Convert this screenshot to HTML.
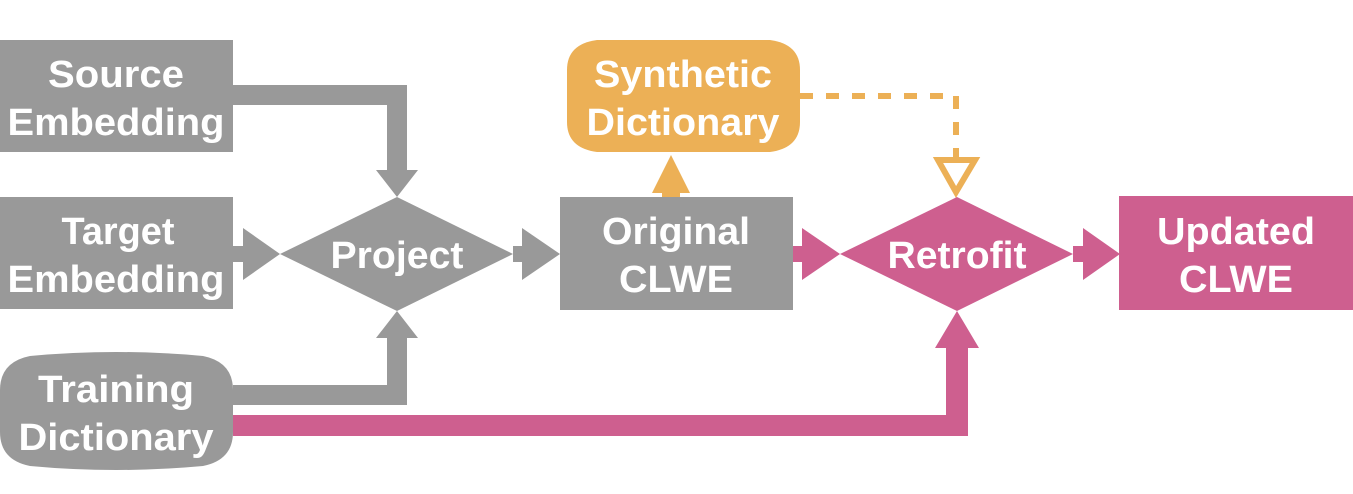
<!DOCTYPE html>
<html><head><style>
html,body{margin:0;padding:0;background:#fff;}
svg{display:block;}
text{font-family:"Liberation Sans",Arial,sans-serif;font-weight:bold;font-size:38px;fill:#fff;text-anchor:middle;}
</style></head><body>
<svg width="1353" height="494" viewBox="0 0 1353 494" xmlns="http://www.w3.org/2000/svg">
<rect x="0" y="40" width="233" height="112" fill="#999"/>
<rect x="0" y="197" width="233" height="112" fill="#999"/>
<path d="M30,356 Q0,362 0,390 L0,432 Q0,460 30,466 Q116,474 203,466 Q233,460 233,432 L233,390 Q233,362 203,356 Q116,348 30,356Z" fill="#999"/>
<rect x="560" y="197" width="233" height="113" fill="#999"/>
<polygon points="280,254 397,197 513,254 397,311" fill="#999"/>
<polygon points="233,85 407,85 407,170 418,170 397,197 376,170 387,170 387,105 233,105" fill="#999"/>
<polygon points="233,246 243,246 243,228 280,254 243,280 243,262 233,262" fill="#999"/>
<polygon points="233,385 387,385 387,338 376,338 397,311 418,338 407,338 407,405 233,405" fill="#999"/>
<polygon points="513,246 522,246 522,228 560,254 522,280 522,262 513,262" fill="#999"/>
<polygon points="233,415 946,415 946,348 935,348 957,311 979,348 968,348 968,436 233,436" fill="#CE5F8F"/>
<path d="M597,40 L770,40 Q800,44 800,70 L800,122 Q800,148 770,152 L597,152 Q567,148 567,122 L567,70 Q567,44 597,40Z" fill="#ECB056"/>
<polygon points="662,197 662,193 652,193 671,155 690,193 680,193 680,197" fill="#ECB056"/>
<path d="M800,96 L956,96 L956,160" fill="none" stroke="#ECB056" stroke-width="6" stroke-dasharray="13,13"/>
<polygon points="938,160 975,160 956,192" fill="none" stroke="#ECB056" stroke-width="6"/>
<polygon points="840,254 957,197 1073,254 957,311" fill="#CE5F8F"/>
<polygon points="793,246 802,246 802,228 840,254 802,280 802,262 793,262" fill="#CE5F8F"/>
<polygon points="1073,246 1083,246 1083,228 1120,254 1083,280 1083,262 1073,262" fill="#CE5F8F"/>
<rect x="1119" y="196" width="234" height="114" fill="#CE5F8F"/>
<text x="116" y="87" textLength="136" lengthAdjust="spacingAndGlyphs">Source</text>
<text x="116" y="135" textLength="217" lengthAdjust="spacingAndGlyphs">Embedding</text>
<text x="118" y="244" textLength="113" lengthAdjust="spacingAndGlyphs">Target</text>
<text x="116" y="292" textLength="217" lengthAdjust="spacingAndGlyphs">Embedding</text>
<text x="116" y="402" textLength="156" lengthAdjust="spacingAndGlyphs">Training</text>
<text x="116" y="450" textLength="195" lengthAdjust="spacingAndGlyphs">Dictionary</text>
<text x="397" y="268" textLength="133" lengthAdjust="spacingAndGlyphs">Project</text>
<text x="676" y="244" textLength="148" lengthAdjust="spacingAndGlyphs">Original</text>
<text x="676" y="292" textLength="114" lengthAdjust="spacingAndGlyphs">CLWE</text>
<text x="683" y="87" textLength="178" lengthAdjust="spacingAndGlyphs">Synthetic</text>
<text x="683" y="135" textLength="193" lengthAdjust="spacingAndGlyphs">Dictionary</text>
<text x="957" y="268" textLength="139" lengthAdjust="spacingAndGlyphs">Retrofit</text>
<text x="1236" y="244" textLength="158" lengthAdjust="spacingAndGlyphs">Updated</text>
<text x="1236" y="292" textLength="114" lengthAdjust="spacingAndGlyphs">CLWE</text>
</svg>
</body></html>
